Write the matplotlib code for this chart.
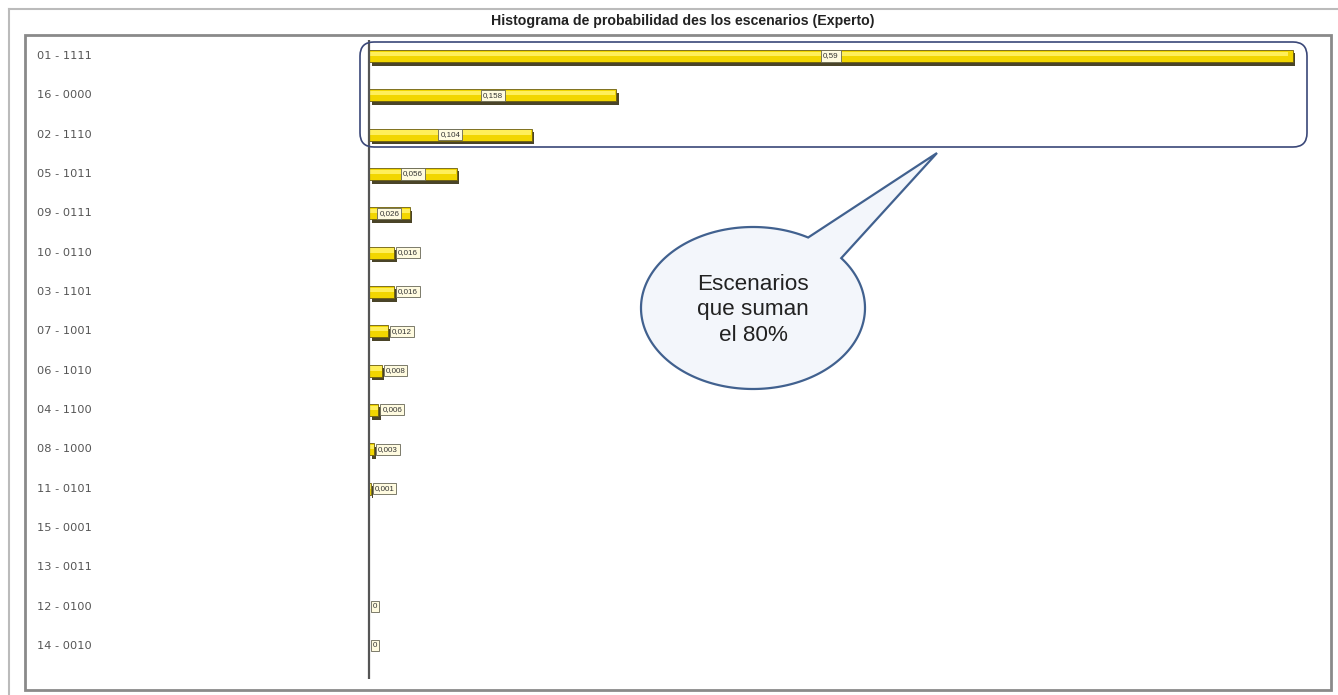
import numpy as np
import matplotlib
matplotlib.use("Agg")
import matplotlib.pyplot as plt
from matplotlib.patches import FancyBboxPatch, Polygon, Rectangle

plt.rcParams['font.family'] = ['Liberation Sans', 'DejaVu Sans']

# ---------------- data ----------------
scenarios = ["01 - 1111", "16 - 0000", "02 - 1110", "05 - 1011", "09 - 0111",
             "10 - 0110", "03 - 1101", "07 - 1001", "06 - 1010", "04 - 1100",
             "08 - 1000", "11 - 0101", "15 - 0001", "13 - 0011", "12 - 0100",
             "14 - 0010"]
probabilities = [0.59, 0.158, 0.104, 0.056, 0.026, 0.016, 0.016, 0.012,
                 0.008, 0.006, 0.003, 0.001, np.nan, np.nan, 0.0, 0.0]
title = "Histograma de probabilidad des los escenarios (Experto)"
callout_text = "Escenarios\nque suman\nel 80%"

W, H = 1338, 695
fig = plt.figure(figsize=(W / 100, H / 100), dpi=100, facecolor="white")

# main plot area (pixel frame 25..1331 x 35..690)
ax = fig.add_axes([25 / W, (H - 690) / H, 1306 / W, 655 / H])
ax.set_xlim(-0.2197, 0.6143)
ax.set_ylim(16.12, -0.534)
ax.axis("off")

ypos = np.arange(len(scenarios))
vals = np.array(probabilities, dtype=float)
px_per_unit = 1306 / (0.6143 + 0.2197)
bar_h = 0.31
shadow_dx = 2.5 / px_per_unit
shadow_dy = 0.09

valid = ~np.isnan(vals)
yv = ypos[valid]
vv = vals[valid]
# shadow
ax.barh(yv + shadow_dy, vv, height=bar_h, left=shadow_dx, color="#4a4428",
        edgecolor="none", zorder=2)
# main bar
ax.barh(yv, vv, height=bar_h, color="#F2D600", edgecolor="#6b5e10",
        linewidth=0.6, zorder=3)
# highlight
ax.barh(yv - bar_h * 0.18, vv * 0.995, height=bar_h * 0.35,
        color="#FFEF5A", edgecolor="none", zorder=4)

# category labels
for y, lab in zip(ypos, scenarios):
    ax.text(-0.212, y, lab, ha="left", va="center", fontsize=8.2,
            color="#555555", family=["DejaVu Sans"])

# axis line
ax.plot([0, 0], [-0.41, 15.85], color="#555555", lw=1.6, zorder=5,
        solid_capstyle="butt")

# value labels
for y, v in zip(ypos, vals):
    if np.isnan(v):
        continue
    txt = f"{v:g}".replace(".", ",")
    bar_px = v * px_per_unit
    if bar_px > 36:
        x = v / 2
        ha = "center"
    else:
        x = v + 4 / px_per_unit
        ha = "left"
    ax.text(x, y, txt, ha=ha, va="center", fontsize=5.8, color="#333333",
            zorder=6,
            bbox=dict(boxstyle="square,pad=0.25", fc="#FFFBE0", ec="#666655",
                      lw=0.6))

# ---------------- overlay in pixel coords ----------------
ov = fig.add_axes([0, 0, 1, 1], facecolor="none")
ov.set_xlim(0, W)
ov.set_ylim(H, 0)
ov.axis("off")

# outer lines
ov.plot([9, 9], [9, H], color="#bbbbbb", lw=1.5)
ov.plot([9, W], [9, 9], color="#bbbbbb", lw=1.5)
# inner frame
ov.add_patch(Rectangle((25, 35), 1306, 655, fill=False, ec="#8a8a8a", lw=2))

ov.text(683, 21, title, ha="center", va="center", fontsize=10.2,
        fontweight="bold", color="#222222")

# rounded callout box
ov.add_patch(FancyBboxPatch((360, 42), 947, 105,
                            boxstyle="round,pad=0,rounding_size=14",
                            fill=False, ec="#3a4778", lw=1.2, zorder=10))

# speech bubble
cx, cy, a, b = 753, 308, 112, 81
t1, t2 = np.deg2rad(60.5), np.deg2rad(38.0 + 360)
th = np.linspace(t1, t2, 200)
pts = np.column_stack([cx + a * np.cos(th), cy - b * np.sin(th)])
pts = np.vstack([pts, [[937, 153]]])
ov.add_patch(Polygon(pts, closed=True, fc="#F3F6FB", ec="#41618F", lw=1.6,
                     zorder=11, joinstyle="miter"))
ov.text(cx, cy + 2, callout_text, ha="center", va="center", fontsize=16.2,
        color="#222222", linespacing=1.3, zorder=12)

fig.savefig("out.png", dpi=100, facecolor="white")
